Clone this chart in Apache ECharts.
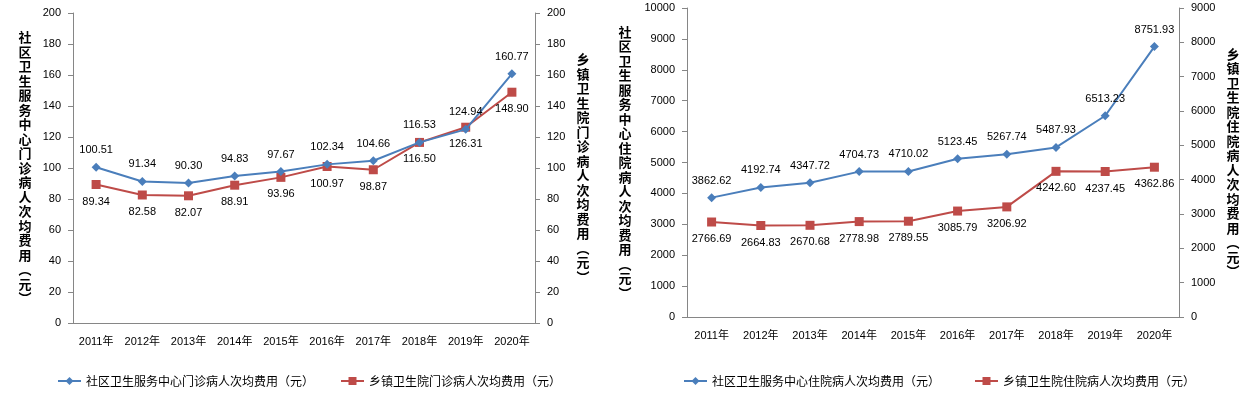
<!DOCTYPE html>
<html><head><meta charset="utf-8">
<script src="https://cdn.jsdelivr.net/npm/echarts@6/dist/echarts.min.js"></script>
<style>html,body{margin:0;padding:0;background:#fff}#c{width:1255px;height:395px}</style>
</head><body><div id="c"></div>
<script>
const categories = ['2011年','2012年','2013年','2014年','2015年','2016年','2017年','2018年','2019年','2020年'];
const communityOutpatient = [100.51, 91.34, 90.30, 94.83, 97.67, 102.34, 104.66, 116.53, 124.94, 160.77];
const townshipOutpatient = [89.34, 82.58, 82.07, 88.91, 93.96, 100.97, 98.87, 116.50, 126.31, 148.90];
const communityInpatient = [3862.62, 4192.74, 4347.72, 4704.73, 4710.02, 5123.45, 5267.74, 5487.93, 6513.23, 8751.93];
const townshipInpatient = [2766.69, 2664.83, 2670.68, 2778.98, 2789.55, 3085.79, 3206.92, 4242.60, 4237.45, 4362.86];

const nameCO = '社区卫生服务中心门诊病人次均费用（元）';
const nameTO = '乡镇卫生院门诊病人次均费用（元）';
const nameCI = '社区卫生服务中心住院病人次均费用（元）';
const nameTI = '乡镇卫生院住院病人次均费用（元）';

const BLUE = '#4A7EBB', RED = '#BE4B48', AXIS = '#868686';
const FONT = '"Liberation Sans", "Noto Sans CJK SC", sans-serif';
const CJK = '"Noto Sans CJK SC", sans-serif';

function vert(s){ return s.replace('（','︵').replace('）','︶').split('').join('\n'); }

function yAx(gridIndex, position, max, interval, title, gap){
  return {
    type:'value', gridIndex, position, min:0, max, interval,
    name: vert(title), nameLocation:'middle', nameRotate:0, nameGap:gap, nameMoveOverlap:false,
    nameTextStyle:{fontFamily:CJK, fontSize:13, fontWeight:'bold', color:'#000', lineHeight:14.5, align:'center', verticalAlign:'middle'},
    axisLine:{show:true, lineStyle:{color:AXIS, width:1}},
    axisTick:{show:true, length:5, lineStyle:{color:AXIS}},
    splitLine:{show:false},
    axisLabel:{fontFamily:FONT, fontSize:11, color:'#000', margin:12, formatter:v=>String(v)}
  };
}
function xAx(gridIndex){
  return {
    type:'category', gridIndex, data:categories, boundaryGap:true,
    axisLine:{lineStyle:{color:AXIS, width:1}},
    axisTick:{length:5, lineStyle:{color:AXIS}},
    axisLabel:{fontFamily:FONT, fontSize:11, color:'#000', margin:13, interval:0}
  };
}
function ser(name, data, xi, yi, color, symbol, pos){
  return {
    type:'line', name, data, xAxisIndex:xi, yAxisIndex:yi,
    symbol, symbolSize:9, lineStyle:{color, width:2}, itemStyle:{color},
    label:{show:true, position:pos, distance:7, fontFamily:FONT, fontSize:11, color:'#000',
      formatter:p=>Number(p.value).toFixed(2)},
    z: symbol==='diamond'?3:2, animation:false
  };
}

const legendText = {fontFamily:CJK, fontSize:12, color:'#000'};
const chart = echarts.init(document.getElementById('c'));
chart.setOption({
  animation:false,
  grid:[
    {left:73, right:1255-535, top:13, height:310},
    {left:687, right:1255-1179, top:8, height:309}
  ],
  xAxis:[xAx(0), xAx(1)],
  yAxis:[
    yAx(0,'left',200,20,nameCO,48),
    yAx(0,'right',200,20,nameTO,48),
    yAx(1,'left',10000,1000,nameCI,62),
    yAx(1,'right',9000,1000,nameTI,54)
  ],
  legend:[
    {data:[nameCO,nameTO], left:57, top:375, padding:0, itemWidth:23, itemHeight:10, itemGap:26, textStyle:legendText},
    {data:[nameCI,nameTI], left:683, top:375, padding:0, itemWidth:23, itemHeight:10, itemGap:34, textStyle:legendText}
  ],
  series:[
    ser(nameCO, communityOutpatient, 0, 0, BLUE, 'diamond', 'top'),
    ser(nameTO, townshipOutpatient, 0, 1, RED, 'rect', 'bottom'),
    ser(nameCI, communityInpatient, 1, 2, BLUE, 'diamond', 'top'),
    ser(nameTI, townshipInpatient, 1, 3, RED, 'rect', 'bottom')
  ]
});
</script></body></html>
